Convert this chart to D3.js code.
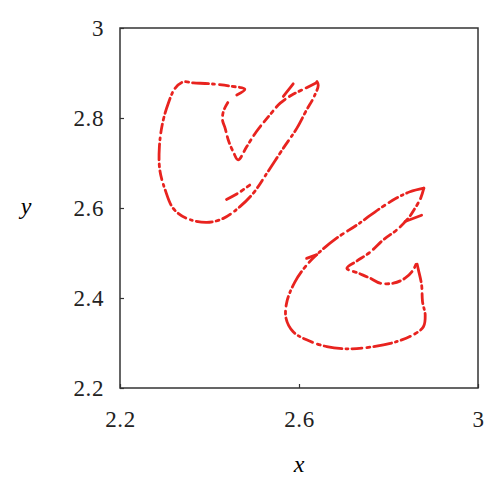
<!DOCTYPE html>
<html lang="en">
<head>
<meta charset="utf-8">
<title>Attractor</title>
<script src="https://cdn.jsdelivr.net/npm/d3@7"></script>
<style>
  body { margin: 0; background: #fff; }
</style>
</head>
<body>
<div id="chart"></div>
<script>
// tick values
var xTicks = [2.2, 2.6, 3];
var yTicks = [2.2, 2.4, 2.6, 2.8, 3];

// upper-left loop (x, y)
var upperOuter = [[2.461,2.851],[2.479,2.864],[2.446,2.871],[2.401,2.876],[2.364,2.878],[2.341,2.880],
  [2.323,2.866],[2.308,2.833],[2.295,2.788],[2.288,2.736],[2.289,2.684],[2.301,2.640],[2.319,2.599],
  [2.349,2.577],[2.394,2.568],[2.431,2.577],[2.468,2.603],[2.498,2.633],[2.528,2.677],[2.565,2.733],
  [2.595,2.777],[2.617,2.818],[2.632,2.844],[2.643,2.873],[2.640,2.881]];
var upperInner = [[2.640,2.879],[2.610,2.864],[2.584,2.851],[2.558,2.833],[2.535,2.807],[2.505,2.770],
  [2.483,2.736],[2.464,2.707],[2.453,2.725],[2.442,2.751],[2.435,2.777],[2.429,2.796],[2.431,2.814],
  [2.440,2.833],[2.446,2.840]];
var upperBits = [
  [[2.565,2.848],[2.576,2.862],[2.587,2.876]],
  [[2.438,2.619],[2.464,2.633],[2.490,2.651]]
];

// lower-right loop
var lowerOuter = [[2.879,2.644],[2.848,2.636],[2.818,2.622],[2.781,2.599],[2.729,2.562],[2.684,2.533],
  [2.647,2.503],[2.617,2.473],[2.591,2.436],[2.573,2.392],[2.571,2.355],[2.587,2.325],[2.617,2.307],
  [2.662,2.292],[2.714,2.287],[2.766,2.292],[2.818,2.303],[2.855,2.318],[2.878,2.336],[2.882,2.362],
  [2.876,2.392],[2.874,2.429],[2.867,2.462],[2.863,2.479]];
var lowerInner = [[2.879,2.644],[2.872,2.622],[2.859,2.599],[2.844,2.577],[2.818,2.551],[2.788,2.529],
  [2.759,2.502],[2.729,2.482],[2.707,2.466],[2.733,2.455],[2.759,2.444],[2.781,2.433],[2.811,2.433],
  [2.837,2.444],[2.855,2.462],[2.863,2.479]];
var lowerBits = [
  [[2.837,2.570],[2.874,2.584]],
  [[2.617,2.488],[2.647,2.499]]
];

var w = 500, h = 492;
var padL = 120, padR = 478, padT = 28, padB = 388;
var serif = "'Liberation Serif', 'DejaVu Serif', serif";

var svg = d3.select("#chart").append("svg")
  .attr("width", w)
  .attr("height", h);

var xScale = d3.scaleLinear().domain([2.2, 3]).range([padL, padR]);
var yScale = d3.scaleLinear().domain([2.2, 3]).range([padB, padT]);

// frame
svg.append("rect")
  .attr("x", padL).attr("y", padT)
  .attr("width", padR - padL).attr("height", padB - padT)
  .attr("fill", "none").attr("stroke", "#333").attr("stroke-width", 1.5);

var xAxis = d3.axisBottom(xScale).tickValues(xTicks).tickFormat(d3.format("")).tickSize(-4).tickPadding(23);
var yAxis = d3.axisLeft(yScale).tickValues(yTicks).tickFormat(d3.format("")).tickSize(-4).tickPadding(16);

function styleAxis(g) {
  g.select(".domain").remove();
  g.selectAll("line").attr("stroke", "#333").attr("stroke-width", 1.2);
  g.selectAll("text").style("font-family", serif).style("font-size", "23px")
    .style("letter-spacing", "0.6px").attr("fill", "#222");
}

svg.append("g").attr("transform", "translate(0," + padB + ")").call(xAxis).call(styleAxis);
svg.append("g").attr("transform", "translate(" + padL + ",0)").call(yAxis).call(styleAxis);

// axis titles
svg.append("text").text("x")
  .attr("x", (padL + padR) / 2).attr("y", 472)
  .attr("text-anchor", "middle")
  .style("font-family", serif).style("font-style", "italic").style("font-size", "24px");
svg.append("text").text("y")
  .attr("x", 26).attr("y", 214)
  .attr("text-anchor", "middle")
  .style("font-family", serif).style("font-style", "italic").style("font-size", "24px");

var line = d3.line()
  .x(function(d) { return xScale(d[0]); })
  .y(function(d) { return yScale(d[1]); })
  .curve(d3.curveCatmullRom.alpha(0.5));

var curves = [upperOuter, upperInner, lowerOuter, lowerInner].concat(upperBits, lowerBits);
var dashes = ["16,4,3,4,9,5,2,4", "12,5,3,4,7,5", "18,4,2,4,10,5,3,4", "11,5,3,4,8,4"];

svg.selectAll("path.orbit")
  .data(curves)
  .enter()
  .append("path")
  .attr("class", "orbit")
  .attr("d", line)
  .attr("fill", "none")
  .attr("stroke", "#e8231f")
  .attr("stroke-width", 2.8)
  .attr("stroke-linecap", "round")
  .attr("stroke-dasharray", function(d, i) { return dashes[i % dashes.length]; });
</script>
</body>
</html>
